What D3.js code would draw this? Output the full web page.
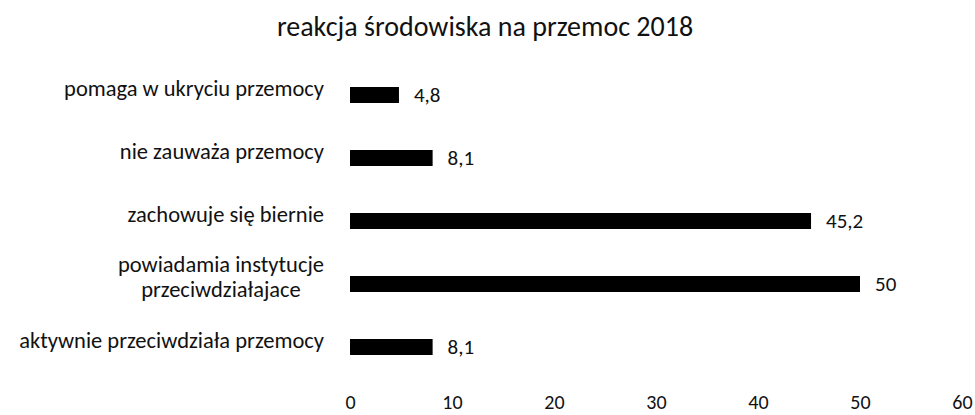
<!DOCTYPE html>
<html>
<head>
<meta charset="utf-8">
<script src="https://cdn.jsdelivr.net/npm/d3@7"></script>
<style>
  body { margin: 0; background: #fff; }
  text { font-family: Carlito, Lato, sans-serif; fill: #111; }
</style>
</head>
<body>
<div id="viz"></div>
<script>
/*** data ***/
const categories = [
  ["pomaga w ukryciu przemocy"],
  ["nie zauważa przemocy"],
  ["zachowuje się biernie"],
  ["powiadamia instytucje", "przeciwdziałajace"],
  ["aktywnie przeciwdziała przemocy"]
];
const values = [4.8, 8.1, 45.2, 50, 8.1];
const valueLabels = ["4,8", "8,1", "45,2", "50", "8,1"];
const ticks = [0, 10, 20, 30, 40, 50, 60];
const title = "reakcja środowiska na przemoc 2018";

/*** global ***/
const width = 975, height = 415;
const barH = 16;

const svg = d3.select("#viz")
  .append("svg")
  .attr("width", width)
  .attr("height", height);

const x = d3.scaleLinear()
  .domain([0, 60])
  .range([350, 962]);

const y = d3.scalePoint()
  .domain(d3.range(categories.length))
  .range([95, 347]);

// title
svg.append("text")
  .attr("x", 485)
  .attr("y", 36)
  .attr("text-anchor", "middle")
  .style("font-size", "28px")
  .text(title);

// bars
svg.append("g")
  .selectAll("rect")
  .data(values)
  .join("rect")
  .attr("x", x(0))
  .attr("y", (d, i) => y(i) - barH / 2)
  .attr("width", d => x(d) - x(0))
  .attr("height", barH)
  .attr("fill", "#000");

// value labels
svg.append("g")
  .selectAll("text")
  .data(values)
  .join("text")
  .attr("x", d => x(d) + 15)
  .attr("y", (d, i) => y(i))
  .attr("dy", "0.35em")
  .style("font-size", "21px")
  .text((d, i) => valueLabels[i]);

// category labels (wrapped lines centred on each other, right edge at 324)
const lineH = 25;
const cat = svg.append("g")
  .selectAll("text")
  .data(categories)
  .join("text")
  .attr("text-anchor", "middle")
  .style("font-size", "22.5px");

cat.each(function(lines, i) {
  const t = d3.select(this);
  const top = y(i) - 7 - (lines.length - 1) * lineH / 2;
  lines.forEach((l, k) => {
    t.append("tspan")
      .attr("y", top + k * lineH)
      .attr("dy", "0.35em")
      .text(l);
  });
  let w = 0;
  t.selectAll("tspan").each(function() { w = Math.max(w, this.getComputedTextLength()); });
  t.selectAll("tspan").attr("x", 324 - w / 2);
});

// x axis (labels only)
const axis = svg.append("g")
  .attr("transform", "translate(0,390)")
  .call(d3.axisBottom(x).tickValues(ticks).tickSize(0).tickPadding(5));
axis.select(".domain").remove();
axis.selectAll("text")
  .style("font-size", "20px")
  .style("font-family", "Carlito, Lato, sans-serif")
  .attr("fill", "#111");
</script>
</body>
</html>
